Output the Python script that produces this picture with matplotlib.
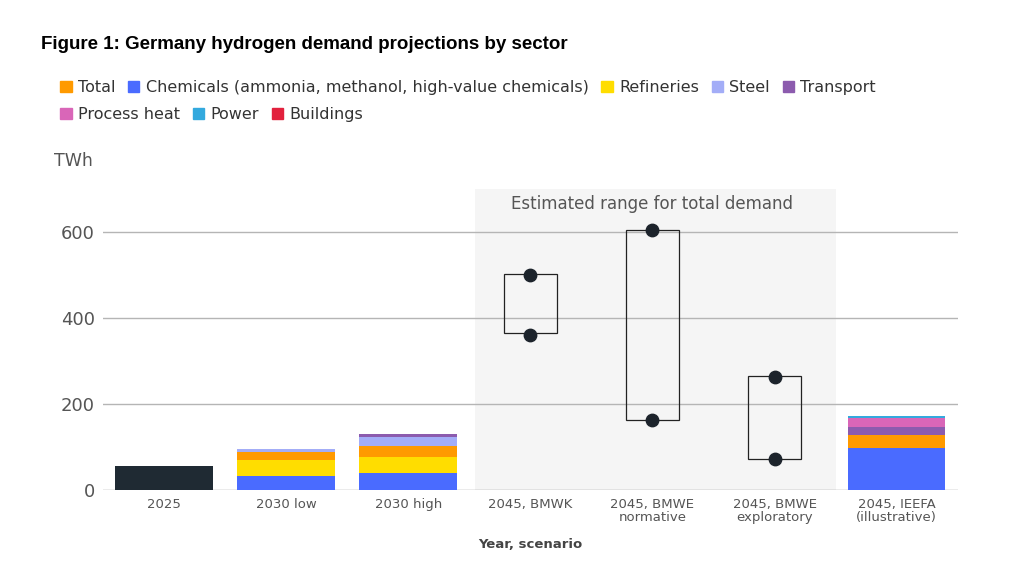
import numpy as np
import matplotlib.pyplot as plt
from matplotlib.patches import Rectangle

categories = ["2025", "2030 low", "2030 high", "2045, BMWK", "2045, BMWE\nnormative",
              "2045, BMWE\nexploratory", "2045, IEEFA\n(illustrative)"]
sectors = ["Total", "Chemicals (ammonia, methanol, high-value chemicals)", "Refineries",
           "Steel", "Transport", "Process heat", "Power", "Buildings"]
colors = ["#FF9A00", "#4A6BFF", "#FFDD00", "#A3ADF7", "#8C5BAE", "#D966B8", "#33A9DE", "#E2213D"]

total_2025 = 56
# stacked order: chemicals, refineries, total(orange), steel, transport, process heat, power
stack_order = ["Chemicals (ammonia, methanol, high-value chemicals)", "Refineries", "Total",
               "Steel", "Transport", "Process heat", "Power"]
stack_values = {
    "2030 low":  [33, 37, 19, 6, 0, 0, 0],
    "2030 high": [39, 38, 25, 22, 6, 0, 0],
    "2045, IEEFA\n(illustrative)": [97, 0, 31, 0, 19, 20, 6],
}
range_cats = ["2045, BMWK", "2045, BMWE\nnormative", "2045, BMWE\nexploratory"]
range_low = [365, 163, 72]
range_high = [502, 605, 265]
dot_low = [360, 163, 72]
dot_high = [500, 605, 262]

fig = plt.figure(figsize=(10.21, 5.71), dpi=100)
ax = fig.add_axes([0.101, 0.142, 0.837, 0.527])
x = np.arange(len(categories))
ax.set_xlim(-0.5, 6.5)
ax.set_ylim(0, 700)

ax.axvspan(2.55, 5.5, color="#f5f5f5", zorder=0, lw=0)
for y in [200, 400, 600]:
    ax.axhline(y, color="#b5b5b5", lw=1, zorder=1)
ax.axhline(0, color="#999999", lw=1, zorder=1)

ax.bar(0, total_2025, width=0.8, color="#1F2A33", zorder=2)
cmap = dict(zip(sectors, colors))
for cat, vals in stack_values.items():
    i = categories.index(cat)
    bottom = 0
    for name, v in zip(stack_order, vals):
        if v:
            ax.bar(i, v, bottom=bottom, width=0.8, color=cmap[name], zorder=2)
            bottom += v

for cat, lo, hi, dl, dh in zip(range_cats, range_low, range_high, dot_low, dot_high):
    i = categories.index(cat)
    ax.add_patch(Rectangle((i - 0.22, lo), 0.44, hi - lo, fill=False, ec="#222222", lw=0.9, zorder=3))
    ax.scatter([i, i], [dl, dh], s=80, color="#1c232b", zorder=4)

ax.text(4.0, 665, "Estimated range for total demand", ha="center", va="center",
        fontsize=12, color="#555555")

ax.set_xticks(x)
ax.set_xticklabels(categories, fontsize=9.5, color="#555555", linespacing=1.0)
ax.set_yticks([0, 200, 400, 600])
ax.set_yticklabels(["0", "200", "400", "600"], fontsize=13, color="#555555")
ax.tick_params(length=0, pad=6)
for s in ax.spines.values():
    s.set_visible(False)
ax.set_xlabel("Year, scenario", fontsize=9.5, color="#444444", fontweight="bold", labelpad=10)

fig.text(0.053, 0.71, "TWh", fontsize=12.5, color="#555555")
fig.text(0.04, 0.915, "Figure 1: Germany hydrogen demand projections by sector",
         fontsize=13.5, fontweight="bold", family="Liberation Sans")

handles = [Rectangle((0, 0), 1, 1, color=c) for c in colors]
fig.legend(handles[:5], sectors[:5], loc="upper left", bbox_to_anchor=(0.045, 0.885),
           ncol=5, frameon=False, fontsize=11.5, handlelength=0.7, handleheight=0.7,
           handletextpad=0.4, columnspacing=0.8, labelcolor="#333333")
fig.legend(handles[5:], sectors[5:], loc="upper left", bbox_to_anchor=(0.045, 0.838),
           ncol=3, frameon=False, fontsize=11.5, handlelength=0.7, handleheight=0.7,
           handletextpad=0.4, columnspacing=0.8, labelcolor="#333333")

fig.savefig("out.png", dpi=100)
